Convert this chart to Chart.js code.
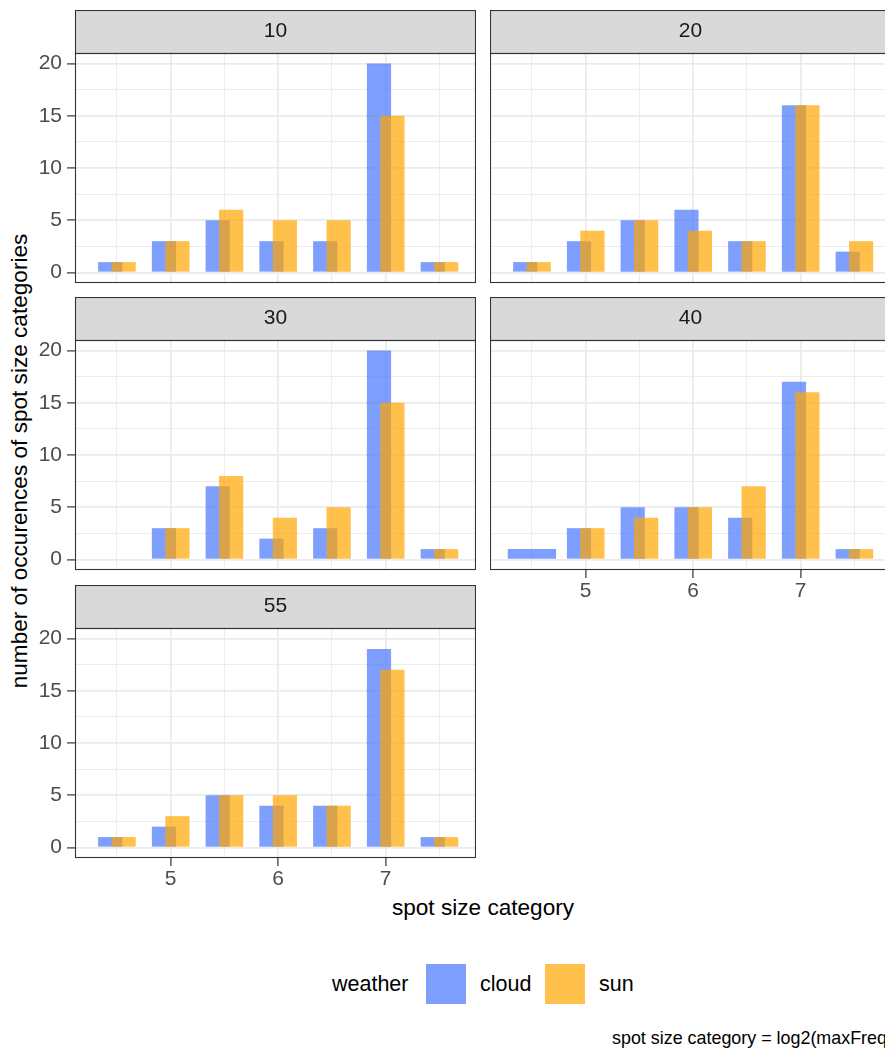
<!DOCTYPE html>
<html>
<head>
<meta charset="utf-8">
<title>Spot size categories by weather</title>
<script src="https://cdn.jsdelivr.net/npm/chart.js@4.4.1/dist/chart.umd.min.js"></script>
<style>
  html, body { margin: 0; padding: 0; background: #ffffff; }
  #page {
    position: relative; width: 885px; height: 1052px; overflow: hidden;
    font-family: "Liberation Sans", Arial, sans-serif; background: #ffffff;
  }
  .panel { position: absolute; }
  .panel canvas { display: block; }
  .txt { position: absolute; white-space: nowrap; color: #000000; }
  .key { position: absolute; width: 40px; height: 40px; }
</style>
</head>
<body>
<div id="page">
  <div class="txt" id="ytitle" style="left:20px; top:461px; font-size:22.6px; line-height:22px; transform:translate(-50%,-50%) rotate(-90deg);">number of occurences of spot size categories</div>
  <div class="txt" style="left:483px; top:897px; font-size:22.6px; line-height:22px; transform:translateX(-50%);">spot size category</div>

  <div class="txt" style="left:332px; top:973px; font-size:21.5px; line-height:22px;">weather</div>
  <div class="key" id="keyCloud" style="left:426px; top:964px;"></div>
  <div class="txt" style="left:480px; top:973px; font-size:21.5px; line-height:22px;">cloud</div>
  <div class="key" id="keySun" style="left:545px; top:964px;"></div>
  <div class="txt" style="left:599px; top:973px; font-size:21.5px; line-height:22px;">sun</div>

  <div class="txt" style="left:612px; top:1029px; font-size:17.9px; line-height:18px;">spot size category = log2(maxFreq)</div>
</div>

<script>
// spot size categories on the x axis and the labelled ticks
const spotCategories = [4.5, 5, 5.5, 6, 6.5, 7, 7.5];
const xTickLabels = [5, 6, 7];
const yTickLabels = [0, 5, 10, 15, 20];
const facetLabels = ['10', '20', '30', '40', '55'];
const seriesNames = ['cloud', 'sun'];

// occurrences per category (null = category absent)
const cloud10 = [1, 3, 5, 3, 3, 20, 1];
const sun10   = [1, 3, 6, 5, 5, 15, 1];
const cloud20 = [1, 3, 5, 6, 3, 16, 2];
const sun20   = [1, 4, 5, 4, 3, 16, 3];
const cloud30 = [null, 3, 7, 2, 3, 20, 1];
const sun30   = [null, 3, 8, 4, 5, 15, 1];
const cloud40 = [1, 3, 5, 5, 4, 17, 1];
const sun40   = [null, 3, 4, 5, 7, 16, 1];
const cloud55 = [1, 2, 5, 4, 4, 19, 1];
const sun55   = [1, 3, 5, 5, 4, 17, 1];

const FONT = '"Liberation Sans", Arial, sans-serif';
Chart.defaults.font.family = FONT;

const cloudFill = 'rgba(72,118,255,0.7)';
const sunFill = 'rgba(255,165,0,0.7)';
document.getElementById('keyCloud').style.background = cloudFill;
document.getElementById('keySun').style.background = sunFill;

// facet grid: two columns, panels fill row by row
const facets = [
  { label: facetLabels[0], cloud: cloud10, sun: sun10, row: 0, col: 0 },
  { label: facetLabels[1], cloud: cloud20, sun: sun20, row: 0, col: 1 },
  { label: facetLabels[2], cloud: cloud30, sun: sun30, row: 1, col: 0 },
  { label: facetLabels[3], cloud: cloud40, sun: sun40, row: 1, col: 1 },
  { label: facetLabels[4], cloud: cloud55, sun: sun55, row: 2, col: 0 }
];

const colLeft = [0, 490];
const yAxisWidth = [75, 0];
const plotWidth = 401;
const rowTop = [10, 297, 585];
const stripHeight = 43;
const plotHeight = 230;

// strip background behind the facet label, borders around strip and panel
const facetFrame = {
  id: 'facetFrame',
  beforeDraw(chart) {
    const { ctx, chartArea: a } = chart;
    const t = chart.titleBlock ? chart.titleBlock.top : 0;
    ctx.save();
    ctx.fillStyle = '#D9D9D9';
    ctx.fillRect(a.left, t, a.right - a.left, a.top - t);
    ctx.restore();
  },
  afterDraw(chart) {
    const { ctx, chartArea: a } = chart;
    const t = chart.titleBlock ? chart.titleBlock.top : 0;
    ctx.save();
    ctx.strokeStyle = '#333333';
    ctx.lineWidth = 1.1;
    ctx.strokeRect(a.left + 0.5, t + 0.5, a.right - a.left - 1, a.top - t);
    ctx.strokeRect(a.left + 0.5, a.top + 0.5, a.right - a.left - 1, a.bottom - a.top - 1);
    ctx.restore();
  }
};

// paint series in dataset order so "sun" overlaps "cloud"
const seriesDrawOrder = {
  id: 'seriesDrawOrder',
  beforeDatasetsDraw(chart) {
    const { ctx, chartArea: a } = chart;
    ctx.save();
    ctx.beginPath();
    ctx.rect(a.left, a.top, a.right - a.left, a.bottom - a.top);
    ctx.clip();
    chart.getSortedVisibleDatasetMetas().forEach(meta => meta.controller.draw());
    ctx.restore();
    return false;
  }
};

const toPoints = values => spotCategories.map((c, i) => ({ x: c, y: values[i] }));

// dodged bars: group width 0.25, each bar 0.225 wide, a lone bar spans 0.45
const barStyle = {
  categoryPercentage: 0.5,
  barPercentage: 1.8,
  grouped: true,
  skipNull: true,
  borderWidth: 0
};

const isMajorX = v => xTickLabels.includes(v);
const isMajorY = v => yTickLabels.includes(v);

facets.forEach(f => {
  const showY = f.col === 0;
  const showX = !facets.some(o => o.col === f.col && o.row === f.row + 1);
  const xAxisHeight = showX ? 36 : 18;
  const width = yAxisWidth[f.col] + plotWidth;
  const height = stripHeight + plotHeight + xAxisHeight;

  const box = document.createElement('div');
  box.className = 'panel';
  box.style.left = colLeft[f.col] + 'px';
  box.style.top = rowTop[f.row] + 'px';
  box.style.width = width + 'px';
  box.style.height = height + 'px';
  const canvas = document.createElement('canvas');
  box.appendChild(canvas);
  document.getElementById('page').appendChild(box);

  new Chart(canvas, {
    type: 'bar',
    data: {
      datasets: [
        Object.assign({ label: seriesNames[0], data: toPoints(f.cloud), backgroundColor: cloudFill }, barStyle),
        Object.assign({ label: seriesNames[1], data: toPoints(f.sun), backgroundColor: sunFill }, barStyle)
      ]
    },
    options: {
      responsive: true,
      maintainAspectRatio: false,
      animation: false,
      events: [],
      layout: { padding: 0 },
      plugins: {
        legend: { display: false },
        tooltip: { enabled: false },
        title: {
          display: true,
          text: f.label,
          fullSize: false,
          color: '#1A1A1A',
          font: { size: 21, weight: 'normal', lineHeight: 1.2 },
          padding: { top: 9, bottom: 8.8 }
        }
      },
      scales: {
        x: {
          type: 'linear',
          min: 4.11,
          max: 7.84,
          offset: false,
          border: { display: false },
          ticks: {
            stepSize: 0.5,
            includeBounds: false,
            autoSkip: false,
            maxRotation: 0,
            display: showX,
            color: '#4D4D4D',
            font: { size: 21 },
            padding: 1,
            callback: v => (isMajorX(v) ? String(v) : '')
          },
          grid: {
            offset: false,
            color: '#EBEBEB',
            lineWidth: c => (c.tick && isMajorX(c.tick.value) ? 1.8 : 0.9),
            drawTicks: showX,
            tickLength: 8,
            tickWidth: 1.2,
            tickColor: c => (c.tick && isMajorX(c.tick.value) ? '#333333' : 'rgba(0,0,0,0)')
          },
          afterFit: s => { s.height = xAxisHeight; }
        },
        y: {
          type: 'linear',
          min: -1,
          max: 21,
          border: { display: false },
          ticks: {
            stepSize: 2.5,
            includeBounds: false,
            autoSkip: false,
            display: showY,
            color: '#4D4D4D',
            font: { size: 21 },
            padding: 5,
            callback: v => (isMajorY(v) ? String(v) : '')
          },
          grid: {
            color: '#EBEBEB',
            lineWidth: c => (c.tick && isMajorY(c.tick.value) ? 1.8 : 0.9),
            drawTicks: showY,
            tickLength: 8,
            tickWidth: 1.2,
            tickColor: c => (c.tick && isMajorY(c.tick.value) ? '#333333' : 'rgba(0,0,0,0)')
          },
          afterFit: s => { s.width = yAxisWidth[f.col]; }
        }
      }
    },
    plugins: [facetFrame, seriesDrawOrder]
  });
});
</script>
</body>
</html>
